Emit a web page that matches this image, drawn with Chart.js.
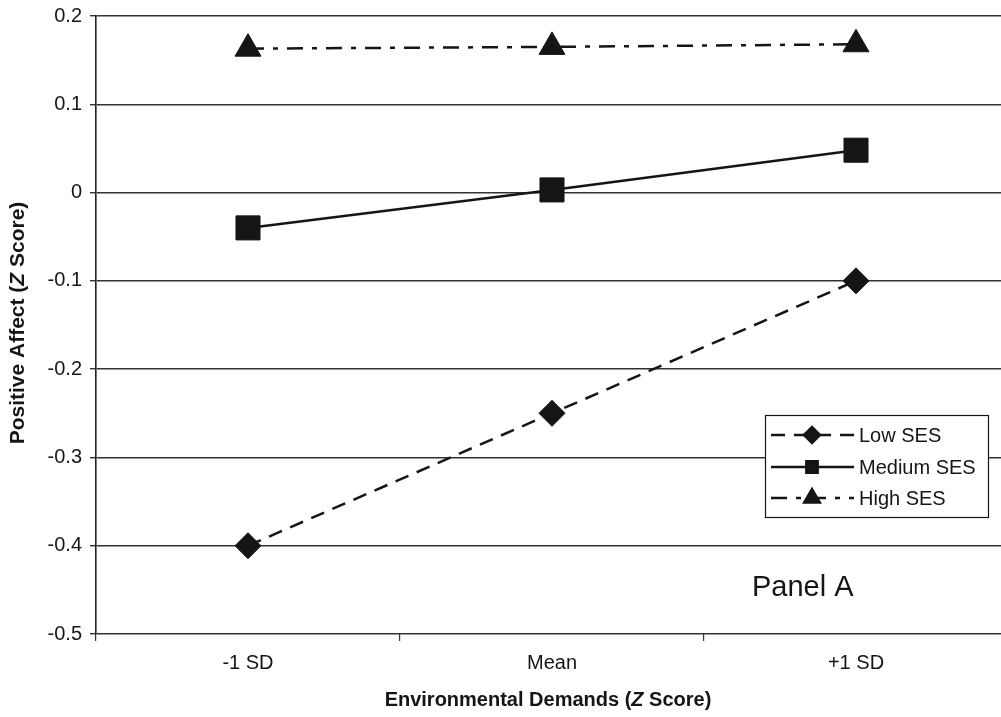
<!DOCTYPE html>
<html>
<head>
<meta charset="utf-8">
<script src="https://cdn.jsdelivr.net/npm/chart.js@4/dist/chart.umd.min.js"></script>
<style>
  html, body { margin: 0; padding: 0; background: #fff; overflow: hidden; }
  #wrap { width: 1008px; height: 717px; }
</style>
</head>
<body>
<div id="wrap"><canvas id="chart" width="1008" height="717"></canvas></div>
<script>
// values
const categories = ['-1 SD', 'Mean', '+1 SD'];
const lowSES = [-0.40, -0.25, -0.10];
const mediumSES = [-0.04, 0.003, 0.048];
const highSES = [0.163, 0.165, 0.168];
const seriesNames = ['Low SES', 'Medium SES', 'High SES'];
const yMin = -0.5, yMax = 0.2, yStep = 0.1;

const FONT = '"Liberation Sans", Arial, sans-serif';
const INK = '#151515';

// draws a label made of pieces (some italic)
function drawParts(ctx, parts, size) {
    let total = 0;
    parts.forEach(p => {
        ctx.font = (p.italic ? 'italic ' : '') + 'bold ' + size + 'px ' + FONT;
        p.w = ctx.measureText(p.t).width;
        total += p.w;
    });
    let x = -total / 2;
    parts.forEach(p => {
        ctx.font = (p.italic ? 'italic ' : '') + 'bold ' + size + 'px ' + FONT;
        ctx.fillText(p.t, x, 0);
        x += p.w;
    });
}

const extras = {
    id: 'extras',
    afterDraw(chart) {
        const ctx = chart.ctx;
        ctx.save();
        ctx.fillStyle = INK;
        ctx.textBaseline = 'middle';
        ctx.textAlign = 'left';

        // axis titles
        ctx.save();
        ctx.translate(18, 323);
        ctx.rotate(-Math.PI / 2);
        drawParts(ctx, [{t: 'Positive Affect ('}, {t: 'Z', italic: true}, {t: ' Score)'}], 21);
        ctx.restore();

        ctx.save();
        ctx.translate(548, 700);
        drawParts(ctx, [{t: 'Environmental Demands ('}, {t: 'Z', italic: true}, {t: ' Score)'}], 20);
        ctx.restore();

        // panel label
        ctx.font = '29px ' + FONT;
        ctx.fillText('Panel A', 752, 588);

        // legend box
        const bx = 765, by = 415, bw = 223, bh = 102;
        ctx.fillStyle = '#fff';
        ctx.fillRect(bx, by, bw, bh);
        ctx.strokeStyle = INK;
        ctx.lineWidth = 1.2;
        ctx.strokeRect(bx + 0.5, by + 0.5, bw, bh);

        const rowY = [435, 467, 498];
        const legendRadius = [8, 8, 9];
        chart.data.datasets.forEach((ds, i) => {
            const y = rowY[i];
            ctx.save();
            ctx.strokeStyle = ds.borderColor;
            ctx.lineWidth = 2.5;
            ctx.setLineDash(ds.borderDash || []);
            ctx.beginPath();
            ctx.moveTo(771, y);
            ctx.lineTo(854, y);
            ctx.stroke();
            ctx.setLineDash([]);
            ctx.fillStyle = ds.pointBackgroundColor;
            ctx.strokeStyle = ds.pointBorderColor;
            Chart.helpers.drawPoint(ctx, {
                pointStyle: ds.pointStyle, rotation: 0,
                radius: legendRadius[i], borderWidth: 1
            }, 812, y);
            ctx.restore();
            ctx.fillStyle = INK;
            ctx.font = '20px ' + FONT;
            ctx.textAlign = 'left';
            ctx.fillText(ds.label, 859, y + 1);
        });
        ctx.restore();
    }
};

const ctx = document.getElementById('chart').getContext('2d');
const chart = new Chart(ctx, {
    type: 'line',
    data: {
        labels: categories,
        datasets: [{
            label: seriesNames[0],
            data: lowSES,
            borderColor: INK,
            borderWidth: 2.5,
            borderDash: [14, 9],
            pointStyle: 'rectRot',
            pointRadius: 13,
            pointBackgroundColor: INK,
            pointBorderColor: INK,
            pointBorderWidth: 1
        }, {
            label: seriesNames[1],
            data: mediumSES,
            borderColor: INK,
            borderWidth: 2.5,
            pointStyle: 'rect',
            pointRadius: 17,
            pointBackgroundColor: INK,
            pointBorderColor: INK,
            pointBorderWidth: 1
        }, {
            label: seriesNames[2],
            data: highSES,
            borderColor: INK,
            borderWidth: 2.5,
            borderDash: [16, 9, 5, 9],
            pointStyle: 'triangle',
            pointRadius: 15,
            pointBackgroundColor: INK,
            pointBorderColor: INK,
            pointBorderWidth: 1
        }]
    },
    options: {
        responsive: false,
        animation: false,
        layout: { autoPadding: false, padding: { top: 16, left: 0, right: 0, bottom: 0 } },
        plugins: {
            legend: { display: false },
            tooltip: { enabled: false }
        },
        scales: {
            x: {
                offset: true,
                grid: {
                    offset: true,
                    drawOnChartArea: false,
                    drawTicks: true,
                    tickLength: 7,
                    color: '#333',
                    lineWidth: 1.2
                },
                border: { display: false },
                ticks: {
                    color: INK,
                    padding: 10,
                    font: { family: FONT, size: 20 }
                },
                afterFit(scale) { scale.height = 83; }
            },
            y: {
                min: yMin,
                max: yMax,
                grid: {
                    color: '#333',
                    lineWidth: 1.4,
                    tickLength: 6,
                    drawTicks: true
                },
                border: { display: true, color: '#222', width: 1.6 },
                ticks: {
                    stepSize: yStep,
                    color: INK,
                    padding: 8,
                    font: { family: FONT, size: 20 },
                    callback: v => String(Number(v.toFixed(1)))
                },
                afterFit(scale) {
                    scale.width = 96;
                    scale.paddingTop = 0;
                    scale.paddingBottom = 0;
                }
            }
        }
    },
    plugins: [extras]
});
</script>
</body>
</html>
